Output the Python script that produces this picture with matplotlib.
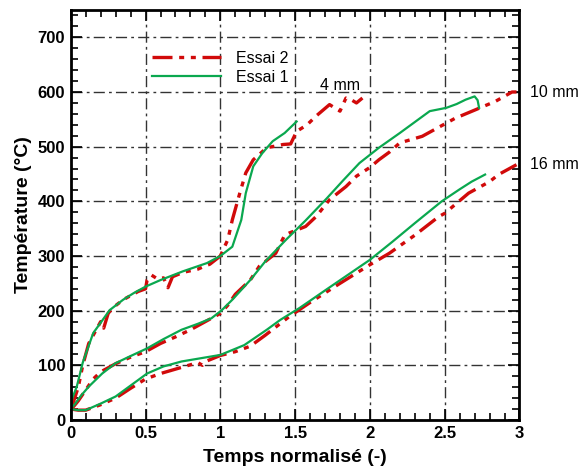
import numpy as np
import matplotlib.pyplot as plt
from matplotlib.ticker import MultipleLocator

plt.rcParams['font.family'] = ['Liberation Sans', 'DejaVu Sans']

# 4 mm
x4_e1 = [0, 0.01, 0.04, 0.08, 0.15, 0.26, 0.35, 0.42, 0.5, 0.6, 0.75, 0.91, 1.0,
         1.08, 1.14, 1.17, 1.22, 1.28, 1.35, 1.43, 1.51]
y4_e1 = [20, 40, 61, 105, 159, 201, 220, 232, 244, 256, 272, 287, 300,
         317, 366, 415, 464, 488, 510, 525, 546]
x4_e2 = [0, 0.02, 0.05, 0.08, 0.12, 0.16, 0.2, 0.22, 0.25, 0.28, 0.35, 0.45, 0.5, 0.51,
         0.54, 0.58, 0.62, 0.65, 0.68, 0.75, 0.85, 0.9, 0.93, 1.0, 1.05, 1.08, 1.13,
         1.17, 1.22, 1.31, 1.42, 1.47, 1.51, 1.58, 1.64, 1.7, 1.73, 1.77, 1.8, 1.84,
         1.88, 1.91, 1.95]
y4_e2 = [20, 35, 60, 100, 140, 160, 180, 168, 195, 205, 220, 235, 240, 256,
         265, 258, 260, 242, 262, 270, 276, 282, 285, 300, 330, 366, 415,
         452, 476, 498, 504, 505, 528, 540, 556, 570, 577, 570, 565, 589,
         585, 580, 589]

# 10 mm
x10_e1 = [0, 0.03, 0.07, 0.12, 0.21, 0.3, 0.4, 0.51, 0.62, 0.74, 0.85, 0.94, 1.01,
          1.08, 1.16, 1.2, 1.3, 1.44, 1.57, 1.71, 1.82, 1.93, 2.06, 2.2, 2.3, 2.4,
          2.51, 2.58, 2.64, 2.7, 2.72, 2.73]
y10_e1 = [20, 30, 45, 61, 85, 104, 117, 131, 148, 165, 176, 186, 201,
          220, 244, 256, 290, 330, 365, 405, 438, 470, 498, 525, 545, 565,
          571, 578, 586, 592, 585, 571]
x10_e2 = [0, 0.02, 0.05, 0.1, 0.15, 0.2, 0.3, 0.4, 0.5, 0.6, 0.7, 0.8, 0.9, 1.0,
          1.05, 1.1, 1.2, 1.26, 1.37, 1.43, 1.46, 1.57, 1.64, 1.73, 1.84, 1.91,
          2.0, 2.06, 2.13, 2.2, 2.35, 2.51, 2.57, 2.71, 2.84, 2.95, 2.98]
y10_e2 = [20, 25, 35, 55, 75, 88, 103, 115, 125, 140, 152, 165, 180, 195,
          210, 230, 256, 281, 305, 338, 342, 354, 372, 403, 427, 446,
          462, 476, 490, 507, 519, 543, 552, 568, 583, 600, 600]

# 16 mm
x16_e1 = [0, 0.05, 0.1, 0.2, 0.3, 0.4, 0.51, 0.62, 0.74, 0.87, 1.0, 1.16, 1.31, 1.4,
          1.53, 1.7, 1.85, 2.0, 2.15, 2.3, 2.48, 2.6, 2.68, 2.77]
y16_e1 = [20, 18, 18, 30, 43, 63, 85, 98, 107, 113, 119, 137, 165, 183,
          205, 237, 265, 293, 326, 360, 400, 422, 436, 449]
x16_e2 = [0, 0.05, 0.1, 0.2, 0.3, 0.4, 0.5, 0.6, 0.75, 0.85, 0.88, 0.91, 1.0, 1.1,
          1.2, 1.3, 1.46, 1.6, 1.8, 2.0, 2.13, 2.3, 2.46, 2.5, 2.66, 2.8, 2.86, 2.98]
y16_e2 = [20, 18, 18, 28, 40, 58, 75, 85, 97, 105, 100, 108, 118, 125,
          135, 155, 189, 215, 250, 284, 305, 338, 372, 378, 415, 436, 449, 467]

red = '#d10a0a'
green = '#0aa84f'
dash2 = (0, (6, 2, 1.5, 2, 1.5, 2))

fig = plt.figure(figsize=(5.85, 4.68), dpi=100)
ax = fig.add_axes([0.121, 0.1026, 0.767, 0.876])

ax.plot(x4_e2, y4_e2, color=red, lw=2.4, ls=dash2, label='Essai 2')
ax.plot(x4_e1, y4_e1, color=green, lw=1.6, label='Essai 1')
ax.plot(x10_e2, y10_e2, color=red, lw=2.4, ls=dash2)
ax.plot(x10_e1, y10_e1, color=green, lw=1.6)
ax.plot(x16_e2, y16_e2, color=red, lw=2.4, ls=dash2)
ax.plot(x16_e1, y16_e1, color=green, lw=1.6)

ax.set_xlim(0, 3)
ax.set_ylim(0, 750)
ax.xaxis.set_minor_locator(MultipleLocator(0.1))
ax.yaxis.set_minor_locator(MultipleLocator(20))
ax.set_xticks([0, 0.5, 1, 1.5, 2, 2.5, 3])
ax.set_xticklabels(['0', '0.5', '1', '1.5', '2', '2.5', '3'])
ax.set_yticks([0, 100, 200, 300, 400, 500, 600, 700])
ax.tick_params(which='both', direction='in', top=True, right=True, width=1.2)
ax.tick_params(which='major', length=8, labelsize=12, pad=4)
ax.tick_params(which='minor', length=5)
for lab in ax.get_xticklabels() + ax.get_yticklabels():
    lab.set_fontweight('bold')
for s in ax.spines.values():
    s.set_linewidth(2)

ax.grid(True, which='major', color='#333333', lw=1, ls=(0, (8, 3, 2, 3)))

ax.set_xlabel('Temps normalisé (-)', fontsize=14, fontweight='bold', labelpad=6)
ax.set_ylabel('Température (°C)', fontsize=14, fontweight='bold', labelpad=4)

ax.text(1.8, 611, '4 mm', fontsize=11.5, ha='center', va='center')
ax.text(3.07, 600, '10 mm', fontsize=11.5, ha='left', va='center', clip_on=False)
ax.text(3.07, 468, '16 mm', fontsize=11.5, ha='left', va='center', clip_on=False)

ax.legend(loc='upper left', bbox_to_anchor=(0.15, 0.935), frameon=False,
          fontsize=11.5, handlelength=4.3, handletextpad=0.9, labelspacing=0.25)

fig.savefig('out.png', dpi=100)
